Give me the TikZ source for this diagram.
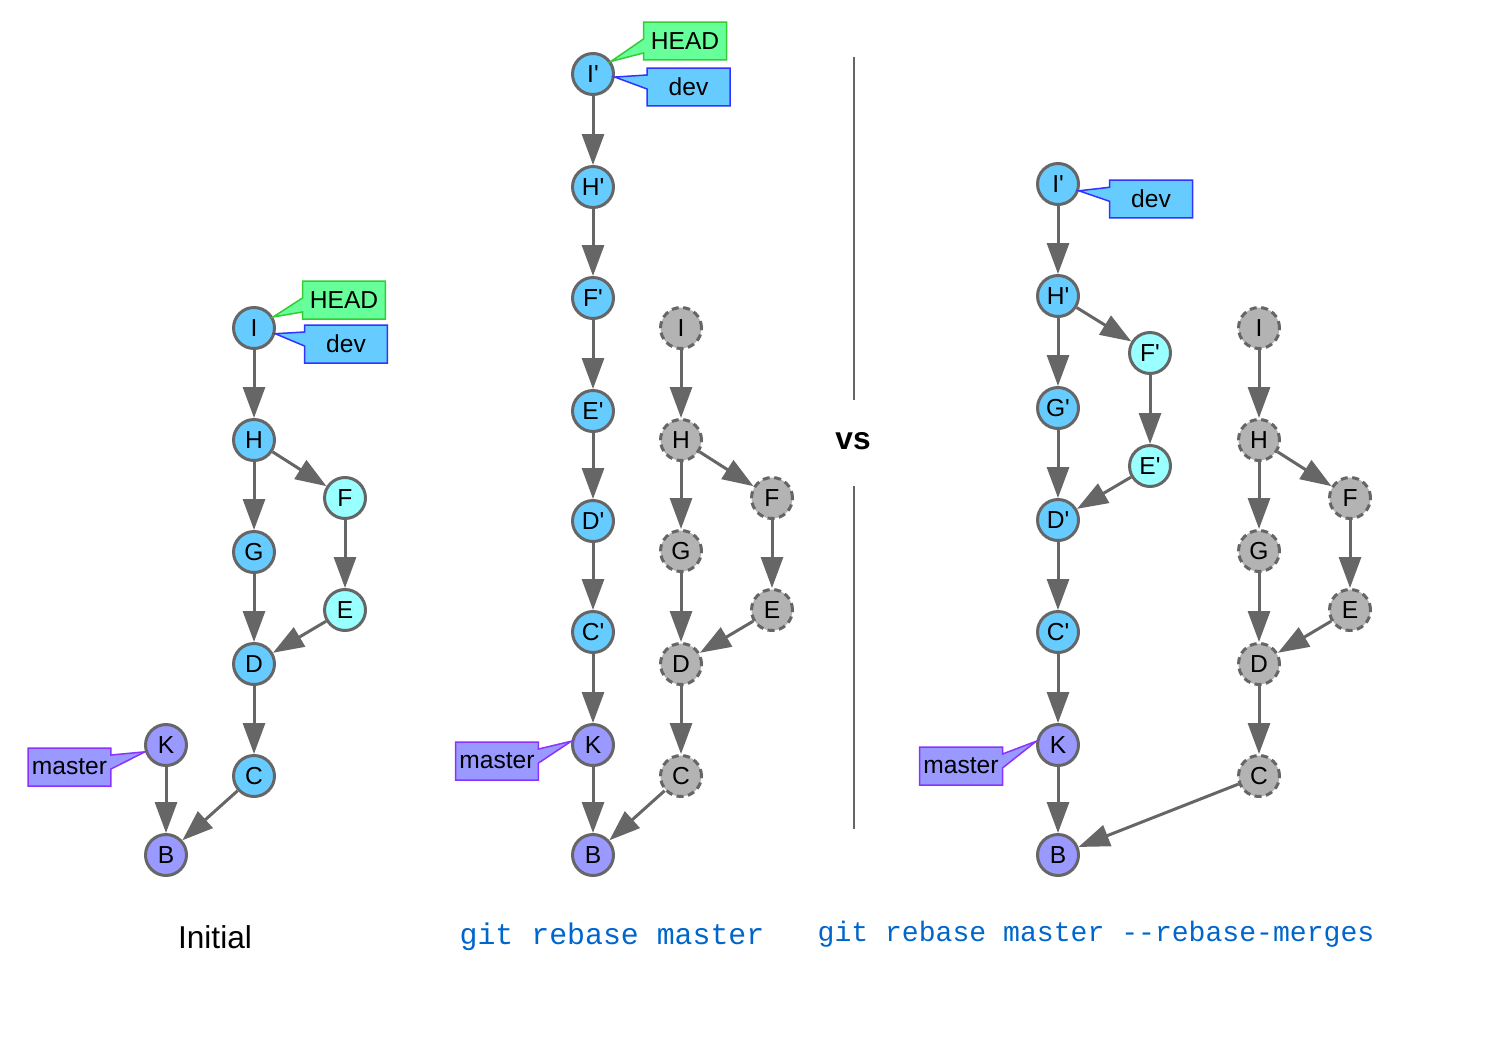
\documentclass[tikz,border=0pt]{standalone}
\usepackage{fontspec}
\setmainfont{Liberation Sans}
\setmonofont{Liberation Mono}
\usetikzlibrary{arrows.meta, shapes.callouts}

\definecolor{commitblue}{HTML}{66CCFF}
\definecolor{commitcyan}{HTML}{99FFFF}
\definecolor{commitpurple}{HTML}{9999FF}
\definecolor{commitgray}{HTML}{B3B3B3}
\definecolor{edgegray}{HTML}{666666}
\definecolor{headgreen}{HTML}{66FF99}
\definecolor{headborder}{HTML}{33CC33}
\definecolor{devborder}{HTML}{3333FF}
\definecolor{masterborder}{HTML}{8833FF}
\definecolor{cmdblue}{HTML}{0066CC}

\newcommand{\rb}[1]{#1\textquotesingle}

\begin{document}
\begin{tikzpicture}[
  x=0.02cm, y=-0.02cm,
  commit/.style={circle, draw=edgegray, line width=0.06cm, minimum size=0.82cm, inner sep=0pt, font=\fontsize{14}{16}\selectfont, fill=commitblue},
  side/.style={commit, fill=commitcyan},
  base/.style={commit, fill=commitpurple},
  lost/.style={commit, fill=commitgray, dash pattern=on 0.14cm off 0.09cm},
  arrow/.style={-{Triangle[length=0.62cm, width=0.44cm]}, line width=0.06cm, draw=edgegray},
  tag/.style={rectangle callout, minimum width=1.66cm, minimum height=0.76cm, inner sep=0pt, line width=0.03cm, callout pointer width=0.28cm, font=\fontsize{14}{16}\selectfont},
  headtag/.style={tag, fill=headgreen, draw=headborder},
  devtag/.style={tag, fill=commitblue, draw=devborder},
  mastertag/.style={tag, fill=commitpurple, draw=masterborder},
  caption/.style={font=\fontsize{18}{20}\selectfont}
]
\useasboundingbox (0,0) rectangle (1497,1058);

% initial
\node[commit] (I0) at (254,328) {I};
\node[commit] (H0) at (254,440) {H};
\node[commit] (G0) at (254,552) {G};
\node[commit] (D0) at (254,664) {D};
\node[commit] (C0) at (254,776) {C};
\node[side] (F0) at (345,498) {F};
\node[side] (E0) at (345,610) {E};
\node[base] (K0) at (166,745) {K};
\node[base] (B0) at (166,855) {B};

\draw[arrow] (I0) -- (H0);
\draw[arrow] (H0) -- (G0);
\draw[arrow] (H0) -- (F0);
\draw[arrow] (G0) -- (D0);
\draw[arrow] (F0) -- (E0);
\draw[arrow] (E0) -- (D0);
\draw[arrow] (D0) -- (C0);
\draw[arrow] (C0) -- (B0);
\draw[arrow] (K0) -- (B0);

\node[headtag, callout absolute pointer={(I0.30)}] (head0) at (344,300) {HEAD};
\node[devtag, callout absolute pointer={(I0.-15)}] (dev0) at (346,344) {dev};
\node[mastertag, callout absolute pointer={(K0.198)}] (master0) at (69.5,767) {master};

\node[caption] (initial) at (215,937) {Initial};

% git rebase master
\node[commit] (I1p) at (593,74) {\rb{I}};
\node[commit] (H1p) at (593,187) {\rb{H}};
\node[commit] (F1p) at (593,298) {\rb{F}};
\node[commit] (E1p) at (593,411) {\rb{E}};
\node[commit] (D1p) at (593,521) {\rb{D}};
\node[commit] (C1p) at (593,632) {\rb{C}};
\node[base] (K1) at (593,745) {K};
\node[base] (B1) at (593,855) {B};

\draw[arrow] (I1p) -- (H1p);
\draw[arrow] (H1p) -- (F1p);
\draw[arrow] (F1p) -- (E1p);
\draw[arrow] (E1p) -- (D1p);
\draw[arrow] (D1p) -- (C1p);
\draw[arrow] (C1p) -- (K1);
\draw[arrow] (K1) -- (B1);

\node[headtag, callout absolute pointer={(I1p.35)}] (head1) at (685,41) {HEAD};
\node[devtag, callout absolute pointer={(I1p.-8)}] (dev1) at (688.5,87) {dev};
\node[mastertag, callout absolute pointer={(K1.170)}] (master1) at (497,761) {master};

\node[caption, font=\ttfamily\fontsize{17}{20}\selectfont, text=cmdblue] (cmd1) at (612,937) {git rebase master};

% git rebase master --rebase-merges
\node[commit] (I2p) at (1058,184) {\rb{I}};
\node[commit] (H2p) at (1058,296) {\rb{H}};
\node[commit] (G2p) at (1058,408) {\rb{G}};
\node[commit] (D2p) at (1058,520) {\rb{D}};
\node[commit] (C2p) at (1058,632) {\rb{C}};
\node[side] (F2p) at (1150,353) {\rb{F}};
\node[side] (E2p) at (1150,466) {\rb{E}};
\node[base] (K2) at (1058,745) {K};
\node[base] (B2) at (1058,855) {B};

\draw[arrow] (I2p) -- (H2p);
\draw[arrow] (H2p) -- (G2p);
\draw[arrow] (H2p) -- (F2p);
\draw[arrow] (G2p) -- (D2p);
\draw[arrow] (F2p) -- (E2p);
\draw[arrow] (E2p) -- (D2p);
\draw[arrow] (D2p) -- (C2p);
\draw[arrow] (C2p) -- (K2);
\draw[arrow] (K2) -- (B2);

\node[devtag, callout absolute pointer={(I2p.-18)}] (dev2) at (1151,199) {dev};
\node[mastertag, callout absolute pointer={(K2.170)}] (master2) at (961,766) {master};

\node[caption, font=\ttfamily\fontsize{16}{20}\selectfont, text=cmdblue] (cmd2) at (1096,934) {git rebase master -{}-rebase-merges};

% old commits left behind
\foreach \n/\x/\b in {1/681/B1, 2/1259/B2} {
  \node[lost] (I\n) at (\x,328) {I};
  \node[lost] (H\n) at (\x,440) {H};
  \node[lost] (G\n) at (\x,551) {G};
  \node[lost] (D\n) at (\x,664) {D};
  \node[lost] (C\n) at (\x,776) {C};
  \node[lost] (F\n) at (\x+91,498) {F};
  \node[lost] (E\n) at (\x+91,610) {E};
  \draw[arrow] (I\n) -- (H\n);
  \draw[arrow] (H\n) -- (G\n);
  \draw[arrow] (H\n) -- (F\n);
  \draw[arrow] (G\n) -- (D\n);
  \draw[arrow] (F\n) -- (E\n);
  \draw[arrow] (E\n) -- (D\n);
  \draw[arrow] (D\n) -- (C\n);
  \draw[arrow] (C\n) -- (\b);
}

% divider
\node[font=\bfseries\fontsize{18}{20}\selectfont] (vs) at (853,441) {vs};
\draw[edgegray, line width=0.03cm] (854,57) -- (854,400);
\draw[edgegray, line width=0.03cm] (854,486) -- (854,829);

\end{tikzpicture}
\end{document}
